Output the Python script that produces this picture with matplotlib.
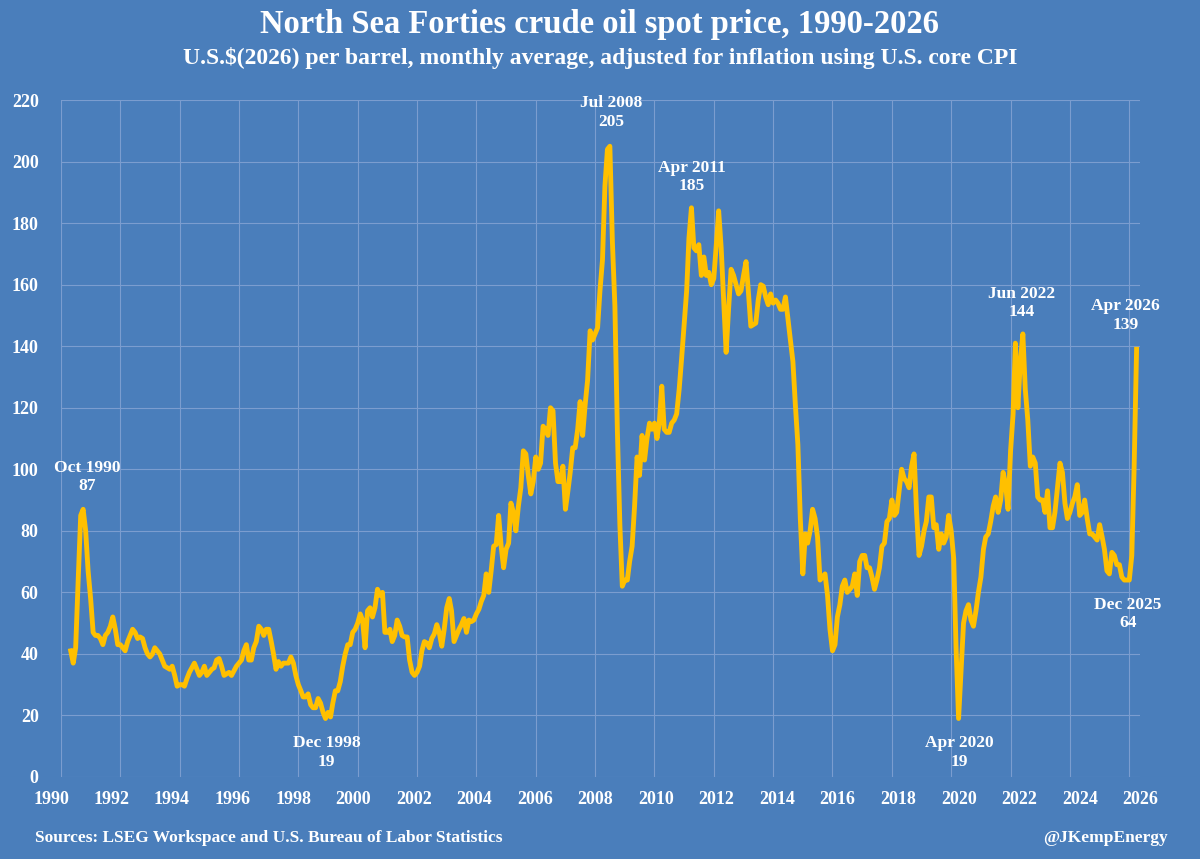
import numpy as np
import pandas as pd
import matplotlib
matplotlib.use("Agg")
import matplotlib.pyplot as plt
import matplotlib.transforms as mtransforms

# monthly average, US$(2026)/bbl, May 1990 - Apr 2026
p1990 = [41, 37, 42, 64, 85, 87, 80, 67]  # May-Dec
p1991 = [58, 47, 46, 46, 45, 43, 46, 47, 49, 52, 48, 43]
p1992 = [43, 42, 41, 44, 46, 48, 47, 45, 45.5, 45, 42, 40]
p1993 = [39, 40, 42, 41, 40, 38, 36, 35.5, 35, 36, 33, 29.5]
p1994 = [30, 30, 29.5, 32, 34, 35.5, 37, 35, 33, 34, 36, 33]
p1995 = [34, 35, 35.5, 38, 38.5, 36, 33, 33.5, 34, 33, 34.5, 36]
p1996 = [37, 38, 41, 43, 38, 38, 42, 44, 49, 48, 46, 48]
p1997 = [48, 44, 40, 35, 37.5, 36, 37, 37, 37, 39, 37, 33]
p1998 = [30, 28, 26, 26, 27, 23.5, 22.5, 22.5, 25.5, 24, 21, 19]
p1999 = [21, 19.5, 24, 28, 28, 31, 36, 40, 43, 43, 47, 48]
p2000 = [50, 53, 51, 42, 54, 55, 52, 55, 61, 59, 60, 47]
p2001 = [47, 48, 44, 46, 51, 49, 46, 45.5, 45.5, 38, 34, 33]
p2002 = [34, 36, 41, 44, 43.5, 42, 45, 46.5, 49.5, 47, 42.5, 48]
p2003 = [55, 58, 54, 44, 46, 48, 49.5, 51.5, 47, 51, 50.5, 51]
p2004 = [53, 54.5, 57, 59, 66, 60, 67, 75, 75.5, 85, 75, 68]
p2005 = [74, 76, 89, 86, 80, 88, 94, 106, 105, 98, 92, 96]
p2006 = [104, 100, 102, 114, 113, 111, 120, 119, 102, 96, 96, 101]
p2007 = [87, 93, 99, 107, 107, 113, 122, 111, 121, 129, 145, 142]
p2008 = [144, 146, 158, 168, 192, 204, 205, 174, 153, 113, 82, 62]
p2009 = [64, 64, 70, 75, 88, 104, 98, 111, 103, 110, 115, 113]
p2010 = [115, 110, 115, 127, 113, 112, 112, 115, 116, 118, 126, 136]
p2011 = [147, 158, 175, 185, 172, 171, 173, 163, 169, 163, 164, 160]
p2012 = [162, 173, 184, 172, 155, 138, 152, 165, 163, 160, 157, 158]
p2013 = [163, 167.5, 158, 146.5, 147, 147.5, 155, 160, 159.5, 156, 153.5, 157]
p2014 = [154, 155, 154, 152, 152, 156, 149, 142, 135, 121, 108, 84]
p2015 = [66, 79, 76, 80, 87, 84, 78, 64, 65, 66, 59, 48]
p2016 = [41, 43, 52, 56, 62, 64, 60, 61, 62, 66, 59, 70]
p2017 = [72, 72, 68, 68, 65, 61, 64, 68, 75, 76, 83, 84]
p2018 = [90, 85, 86, 93, 100, 97, 96, 94, 101, 105, 86, 72]
p2019 = [75, 80, 83, 91, 91, 81, 82, 74, 79, 76, 78, 85]
p2020 = [80, 71, 42, 19, 34, 50, 54, 56, 51, 49, 54, 60]
p2021 = [65, 74, 78, 79, 83, 88, 91, 86, 90, 99, 95, 87]
p2022 = [106, 118, 141, 120, 135, 144, 126, 116, 101, 104, 102, 91]
p2023 = [90, 90, 86, 93, 81, 81, 86, 94, 102, 99, 89, 84]
p2024 = [86, 89, 91, 95, 85, 86, 90, 84, 79, 79, 78, 77]
p2025 = [82, 78, 74, 67, 66, 73, 72, 69, 69, 65, 64, 64]
p2026 = [64, 72, 100, 139]  # Jan-Apr

prices = (p1990 + p1991 + p1992 + p1993 + p1994 + p1995 + p1996 + p1997 + p1998
          + p1999 + p2000 + p2001 + p2002 + p2003 + p2004 + p2005 + p2006 + p2007
          + p2008 + p2009 + p2010 + p2011 + p2012 + p2013 + p2014 + p2015 + p2016
          + p2017 + p2018 + p2019 + p2020 + p2021 + p2022 + p2023 + p2024 + p2025
          + p2026)
dates = pd.date_range("1990-05-01", periods=len(prices), freq="MS")

tick_years = list(range(1990, 2027, 2))
y_ticks = list(range(0, 221, 20))

# labelled points: (text, x date, y of label centre)
notes = [
    ("Oct 1990\n87", "1990-11-15", 97.5),
    ("Dec 1998\n19", "1998-12-15", 8),
    ("Jul 2008\n205", "2008-07-20", 216),
    ("Apr 2011\n185", "2011-04-01", 195),
    ("Apr 2020\n19", "2020-04-15", 8),
    ("Jun 2022\n144", "2022-05-15", 154),
    ("Apr 2026\n139", "2025-11-15", 150),
    ("Dec 2025\n64", "2025-12-15", 53),
]

bg = "#4a7ebb"
grid_c = "#7b9dcf"
line_c = "#ffc000"
font = ["Liberation Serif", "DejaVu Serif"]

plt.rcParams["font.family"] = font
plt.rcParams["font.weight"] = "bold"

fig = plt.figure(figsize=(12, 8.59), dpi=100, facecolor=bg)
ax = fig.add_axes([0.0508, 0.0955, 0.899, 0.788], facecolor=bg)

ax.plot(dates, prices, color=line_c, lw=3.5, solid_joinstyle="round", zorder=3)

ax.set_ylim(0, 220)
ax.set_xlim(pd.Timestamp("1990-01-01"), pd.Timestamp("2026-05-10"))
ax.set_yticks(y_ticks)
ax.set_xticks([pd.Timestamp(f"{y}-01-01") for y in tick_years])
ax.set_xticklabels([str(y) for y in tick_years])
ax.grid(True, color=grid_c, lw=0.8)
ax.set_axisbelow(True)
for s in ax.spines.values():
    s.set_visible(False)
ax.tick_params(length=0, colors="white", labelsize=13, pad=10)
ax.tick_params(axis="y", pad=16)
for lab in ax.get_xticklabels() + ax.get_yticklabels():
    lab.set_fontweight("bold")

# year labels sit on a slightly wider spacing than the gridlines
n = len(tick_years) - 1
for i, lab in enumerate(ax.get_xticklabels()):
    dx = (-10 + 21 * i / n) / 100
    lab.set_transform(lab.get_transform() + mtransforms.ScaledTranslation(dx, 0, fig.dpi_scale_trans))

for txt, d, y in notes:
    ax.text(pd.Timestamp(d), y, txt, ha="center", va="center", color="white",
            fontsize=12.5, fontweight="bold", linespacing=1.2, zorder=4)

fig.text(0.5, 0.972, "North Sea Forties crude oil spot price, 1990-2026",
         ha="center", va="center", color="white", fontsize=23.5, fontweight="bold")
fig.text(0.5, 0.932, "U.S.$(2026) per barrel, monthly average, adjusted for inflation using U.S. core CPI",
         ha="center", va="center", color="white", fontsize=17, fontweight="bold")
fig.text(0.029, 0.024, "Sources: LSEG Workspace and U.S. Bureau of Labor Statistics",
         ha="left", va="center", color="white", fontsize=12.5, fontweight="bold")
fig.text(0.973, 0.024, "@JKempEnergy",
         ha="right", va="center", color="white", fontsize=12.5, fontweight="bold")

fig.savefig("out.png", dpi=100, facecolor=bg)
